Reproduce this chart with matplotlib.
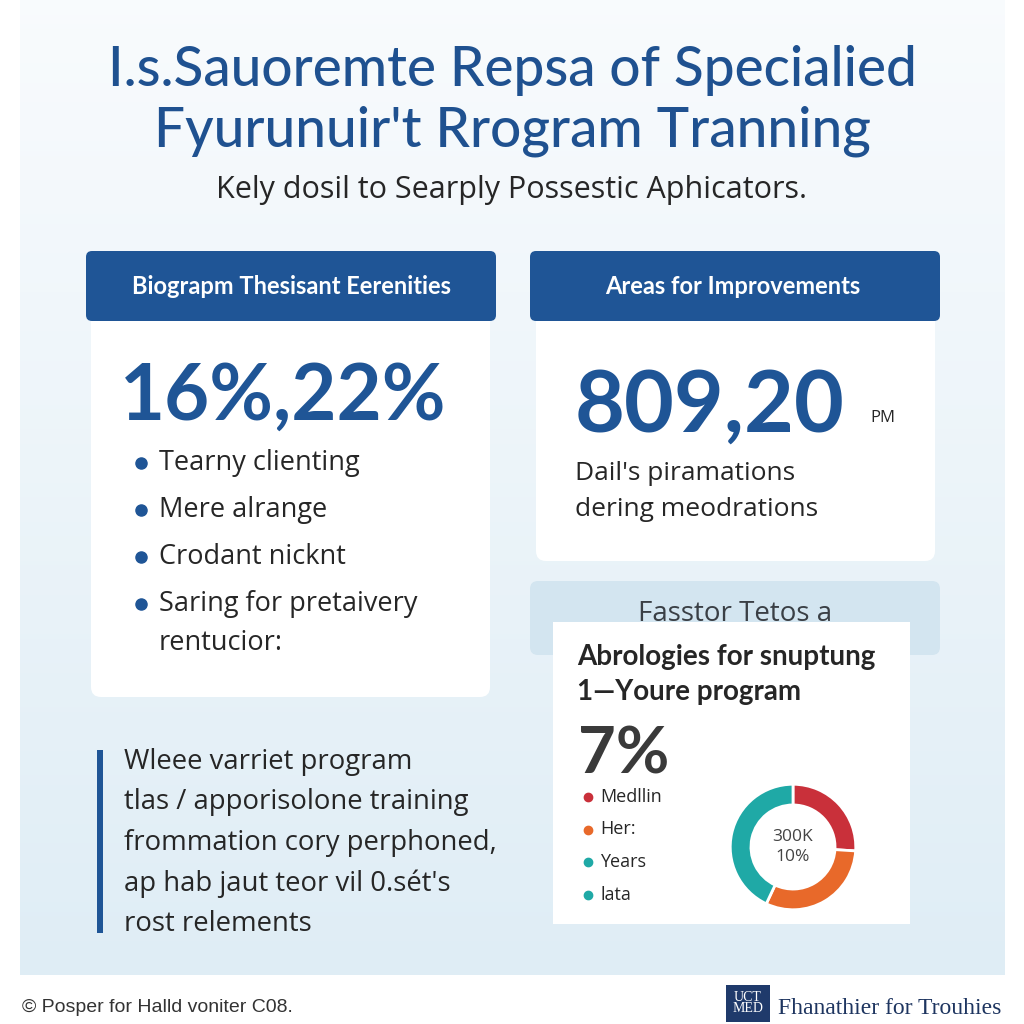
#!/usr/bin/env python3

# import modules
from matplotlib import pyplot as plt
from matplotlib.patches import FancyBboxPatch, Rectangle
import numpy as np

# texts and values
title_lines = ['I.s.Sauoremte Repsa of Specialied', 'Fyurunuir\'t Rrogram Tranning']
subtitle = 'Kely dosil to Searply Possestic Aphicators.'

left_header = 'Biograpm Thesisant Eerenities'
left_number = '16%,22%'
left_bullets = ['Tearny clienting', 'Mere alrange', 'Crodant nicknt', 'Saring for pretaivery']
left_bullet_tail = 'rentucior:'

right_header = 'Areas for Improvements'
right_number = '809,20'
right_unit = 'PM'
right_caption = ["Dail's piramations", 'dering meodrations']

faded_box_text = 'Fasstor Tetos a'
card_title = ['Abrologies for snuptung', '1\u2014Youre program']
card_number = '7%'
legend_labels = ['Medllin', 'Her:', 'Years', 'lata']
donut_labels = ['Medllin', 'Her:', 'Years']
donut_values = [26, 31, 43]
donut_center = '300K\n10%'

quote_lines = ['Wleee varriet program', 'tlas / apporisolone training',
               'frommation cory perphoned,', "ap hab jaut teor vil 0.s\u00e9t's",
               'rost relements']

footer_left = '\u00a9 Posper for Halld voniter C08.'
footer_right = 'Fhanathier for Trouhies'

# colours
BLUE = '#1f5596'
DARK = '#262626'
RED, ORANGE, TEAL = '#c9303a', '#e8692a', '#1fa9a6'
legend_colors = [RED, ORANGE, TEAL, TEAL]
HEAD = ['Lato', 'DejaVu Sans']

plt.rcParams['font.family'] = ['Open Sans', 'DejaVu Sans']

fig = plt.figure(figsize=(10.24, 10.24), dpi=100)
ax = fig.add_axes([0, 0, 1, 1])
ax.set_xlim(0, 1024)
ax.set_ylim(1024, 0)
ax.axis('off')

# background gradient panel
grad = np.linspace(0, 1, 200)[:, None]
top = np.array([0.975, 0.985, 0.993])
bot = np.array([0.875, 0.930, 0.963])
img = top + (bot - top) * grad[..., None]
img = np.repeat(img, 2, axis=1)
ax.imshow(img, extent=[20, 1005, 975, 0], aspect='auto', zorder=0)


def box(x0, y0, x1, y1, color, r=8, z=1):
    p = FancyBboxPatch((x0 + r, y0 + r), x1 - x0 - 2 * r, y1 - y0 - 2 * r,
                       boxstyle='round,pad=%d' % r, fc=color, ec='none', zorder=z)
    ax.add_patch(p)


# title
for i, t in enumerate(title_lines):
    ax.text(512, 70 + 61 * i, t, ha='center', va='center', fontsize=39.5,
            color='#1f5190', family=HEAD, fontweight='medium', zorder=3)
ax.text(512, 190, subtitle, ha='center', va='center', fontsize=22, color=DARK, zorder=3)

# left card
box(91, 300, 490, 697, 'white', r=10, z=1)
box(86, 251, 496, 321, BLUE, r=6, z=2)
ax.text(291, 286, left_header, ha='center', va='center', fontsize=17, color='white',
        family=HEAD, fontweight='bold', zorder=3)
ax.text(120, 398, left_number, ha='left', va='center', fontsize=56, color=BLUE,
        family=HEAD, fontweight='bold', zorder=3)
for i, b in enumerate(left_bullets):
    y = 463 + 47 * i
    ax.plot(141, y, 'o', ms=8, color=BLUE, zorder=3)
    ax.text(159, y, b, ha='left', va='center', fontsize=19.5, color=DARK, zorder=3)
ax.text(159, 643, left_bullet_tail, ha='left', va='center', fontsize=19.5, color=DARK, zorder=3)

# right card
box(536, 300, 935, 561, 'white', r=10, z=1)
box(530, 251, 940, 321, BLUE, r=6, z=2)
ax.text(733, 286, right_header, ha='center', va='center', fontsize=17, color='white',
        family=HEAD, fontweight='bold', zorder=3)
ax.text(575, 407, right_number, ha='left', va='center', fontsize=62, color=BLUE,
        family=HEAD, fontweight='bold', zorder=3)
ax.text(870, 418, right_unit, ha='left', va='center', fontsize=12, color=DARK, zorder=3)
for i, c in enumerate(right_caption):
    ax.text(575, 473 + 36 * i, c, ha='left', va='center', fontsize=19, color=DARK, zorder=3)

# faded box behind the donut card
box(530, 581, 940, 655, '#d3e5f0', r=8, z=1)
ax.text(735, 614, faded_box_text, ha='center', va='center', fontsize=20,
        color='#3a3f45', zorder=2)
ax.add_patch(Rectangle((553, 622), 357, 302, fc='white', ec='none', zorder=3))
for i, t in enumerate(card_title):
    ax.text(577, 657 + 35 * i, t, ha='left', va='center', fontsize=20, color=DARK,
            family=HEAD, fontweight='bold', zorder=4)
ax.text(578, 755, card_number, ha='left', va='center', fontsize=47, color='#3a3a3a',
        family=HEAD, fontweight='bold', zorder=4)
for i, (lab, col) in enumerate(zip(legend_labels, legend_colors)):
    y = 797 + 32.5 * i
    ax.plot(588, y, 'o', ms=6, color=col, zorder=4)
    ax.text(600, y, lab, ha='left', va='center', fontsize=13, color=DARK, zorder=4)

# donut
R = 64
dax = fig.add_axes([(793 - R) / 1024, 1 - (847 + R) / 1024, 2 * R / 1024, 2 * R / 1024])
dax.pie(donut_values, colors=[RED, ORANGE, TEAL], startangle=90, counterclock=False,
        wedgeprops=dict(width=0.33, edgecolor='white', linewidth=2))
dax.text(0, 0, donut_center, ha='center', va='center', fontsize=12.5, color='#444444',
         linespacing=1.35)
dax.set_xlim(-1.02, 1.02)
dax.set_ylim(-1.02, 1.02)
dax.set_aspect('equal')

# quote
ax.add_patch(Rectangle((97, 750), 6, 183, fc=BLUE, ec='none', zorder=2))
for i, q in enumerate(quote_lines):
    ax.text(124, 762 + 40.5 * i, q, ha='left', va='center', fontsize=19.8, color=DARK, zorder=3)

# footer
ax.text(22, 1008, footer_left, ha='left', va='center', fontsize=14, color='#333333',
        family=['Liberation Sans', 'DejaVu Sans'])
ax.add_patch(Rectangle((726, 985), 44, 37, fc='#1f3a6b', ec='none', zorder=2))
ax.text(748, 1003, 'UCT\nMED', ha='center', va='center', fontsize=10, color='white',
        family=['Liberation Serif', 'DejaVu Serif'], linespacing=0.85, zorder=3)
ax.text(778, 1008, footer_right, ha='left', va='center', fontsize=17, color='#1e3560',
        family=['Liberation Serif', 'DejaVu Serif'])

# write to disk
fig.savefig('out.png', dpi=100, facecolor='white')
